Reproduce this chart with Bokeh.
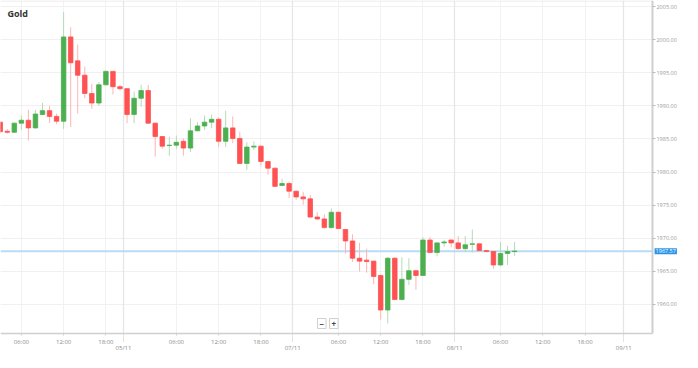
from bokeh.plotting import figure
from bokeh.models import (ColumnDataSource, FixedTicker, LinearAxis, Range1d,
                          Label, Grid, PrintfTickFormatter, BoxAnnotation)
from bokeh.embed import file_html
from bokeh.resources import INLINE

# ---- data (hourly candles) ----
opens = [1987.54, 1986.16, 1986.01, 1987.39, 1987.83, 1986.67, 1988.70, 1989.28, 1988.41, 1987.68,
         2000.43, 1996.81, 1994.64, 1991.88, 1990.43, 1993.19, 1995.22, 1992.90, 1992.61, 1988.70,
         1991.16, 1992.32, 1987.39, 1985.36, 1983.99, 1984.06, 1984.64, 1983.62, 1986.23, 1986.96,
         1987.54, 1987.97, 1984.64, 1986.67, 1985.07, 1981.30, 1983.77, 1983.91, 1981.59, 1980.58,
         1977.97, 1978.26, 1977.10, 1976.23, 1975.94, 1973.19, 1972.90, 1971.59, 1973.91, 1971.30,
         1969.57, 1966.96, 1966.67, 1966.52, 1964.35, 1959.13, 1966.96, 1960.72, 1963.77, 1965.07,
         1964.35, 1969.71, 1967.83, 1969.28, 1969.71, 1969.28, 1968.41, 1969.06, 1969.13, 1968.12,
         1967.97, 1965.94, 1967.68, 1967.97]
highs = [1987.68, 1986.52, 1987.46, 1988.55, 1989.42, 1989.42, 1990.43, 1990.00, 1988.84, 2004.20,
         2001.88, 1999.28, 1995.94, 1993.33, 1993.62, 1995.36, 1995.29, 1993.19, 1992.68, 1992.17,
         1993.19, 1993.19, 1987.46, 1985.43, 1985.36, 1985.51, 1985.07, 1988.12, 1987.54, 1988.55,
         1988.70, 1988.26, 1989.28, 1988.41, 1986.09, 1984.49, 1984.64, 1983.99, 1981.67, 1980.65,
         1978.99, 1978.55, 1977.17, 1976.96, 1976.52, 1973.91, 1973.62, 1974.49, 1973.99, 1971.38,
         1970.58, 1969.28, 1968.41, 1966.59, 1964.49, 1967.10, 1967.10, 1967.10, 1966.96, 1965.14,
         1970.14, 1970.14, 1969.35, 1969.71, 1969.78, 1970.29, 1970.29, 1971.30, 1969.20, 1968.19,
         1968.04, 1969.42, 1968.84, 1969.42]
lows = [1985.80, 1985.80, 1985.94, 1986.38, 1984.78, 1986.59, 1988.62, 1987.39, 1987.25, 1986.52,
        1986.81, 1988.84, 1991.16, 1989.57, 1990.00, 1993.12, 1991.74, 1992.32, 1987.39, 1987.39,
        1989.86, 1987.32, 1982.32, 1983.48, 1982.46, 1983.48, 1982.46, 1983.04, 1986.23, 1986.38,
        1986.67, 1983.77, 1983.77, 1984.35, 1981.23, 1980.29, 1983.33, 1980.87, 1979.57, 1977.75,
        1977.83, 1976.09, 1975.80, 1975.07, 1973.12, 1972.75, 1971.45, 1971.45, 1971.38, 1967.68,
        1966.38, 1964.93, 1964.78, 1963.04, 1957.68, 1957.10, 1960.58, 1960.58, 1962.90, 1962.17,
        1964.28, 1967.75, 1967.25, 1968.70, 1968.62, 1968.26, 1967.97, 1967.83, 1968.04, 1967.90,
        1965.36, 1965.80, 1965.94, 1967.32]
closes = [1986.09, 1986.01, 1987.39, 1987.83, 1986.67, 1988.77, 1989.28, 1988.41, 1987.68, 2000.43,
          1996.52, 1994.64, 1991.88, 1990.43, 1993.19, 1995.22, 1992.90, 1992.61, 1988.70, 1991.16,
          1992.32, 1987.39, 1985.36, 1983.91, 1984.06, 1984.49, 1983.62, 1986.23, 1986.96, 1987.54,
          1987.97, 1984.64, 1986.67, 1985.07, 1981.30, 1983.77, 1983.91, 1981.59, 1980.58, 1977.83,
          1978.26, 1977.10, 1976.23, 1975.94, 1973.19, 1972.90, 1971.59, 1973.91, 1971.45, 1969.57,
          1966.96, 1966.52, 1966.45, 1964.20, 1959.13, 1966.96, 1960.72, 1963.77, 1965.07, 1964.35,
          1969.71, 1967.83, 1969.28, 1969.42, 1969.28, 1968.41, 1968.99, 1969.13, 1968.12, 1967.97,
          1965.94, 1967.68, 1967.97, 1968.04]

time_ticks = [3, 9, 15, 25, 31, 37, 48, 54, 60, 71, 77, 83]
time_labels = ["06:00", "12:00", "18:00"] * 4
date_ticks = [17.5, 41.5, 64.5, 88.5]
date_labels = ["05/11", "07/11", "08/11", "09/11"]
price_ticks = [1960, 1965, 1970, 1975, 1980, 1985, 1990, 1995, 2000, 2005]
current_price = 1968.0
current_label = "1967.57"
title_text = "Gold"

GREEN, RED = "#4caf50", "#ff5252"
GREEN_W, RED_W = "#b2dcb4", "#ffb5b5"

idx = list(range(len(opens)))
up = [c >= o for o, c in zip(opens, closes)]
src = ColumnDataSource(dict(
    x=idx, high=highs, low=lows,
    top=[max(o, c) for o, c in zip(opens, closes)],
    bottom=[min(o, c) for o, c in zip(opens, closes)],
    color=[GREEN if u else RED for u in up],
    wick=[GREEN_W if u else RED_W for u in up],
))

W, H = 682, 352
X0, X1 = 0.04, 96.83          # whole canvas span (index units)
Y0, Y1 = 1952.70, 2005.94     # whole canvas span (price units)
AX_X = 92.57                  # where the price axis sits
AX_Y = 1955.51                # where the time axis sits

p = figure(width=W, height=H, x_range=Range1d(X0, X1), y_range=Range1d(Y0, Y1),
           y_axis_location="right", output_backend="svg", toolbar_location=None,
           min_border_left=0, min_border_top=0, min_border_bottom=0, min_border_right=0)
p.background_fill_color = "white"
p.border_fill_color = "white"
p.outline_line_color = None

# grids
p.ygrid.grid_line_color = "#f0f0f0"
p.xgrid.ticker = FixedTicker(ticks=time_ticks)
p.xgrid.grid_line_color = "#f2f2f2"
p.add_layout(Grid(dimension=0, ticker=FixedTicker(ticks=date_ticks),
                  grid_line_color="#e6e6e6", grid_line_width=1.3))

# white masks over the axis label areas
p.add_layout(BoxAnnotation(left=AX_X, fill_color="white", fill_alpha=1.0, line_color=None,
                           level="underlay"))
p.add_layout(BoxAnnotation(top=AX_Y, fill_color="white", fill_alpha=1.0, line_color=None,
                           level="underlay"))

# top border and current price line (both stop at the price axis)
p.segment(x0=[X0], y0=[Y1 - 0.08], x1=[AX_X], y1=[Y1 - 0.08], line_color="#e6e6e6", line_width=1)
p.segment(x0=[X0], y0=[current_price], x1=[AX_X], y1=[current_price],
          line_color="#b8dcf3", line_width=2)

# candles
p.segment(x0="x", y0="low", x1="x", y1="high", color="wick", line_width=1, source=src)
p.vbar(x="x", width=0.64, top="top", bottom="bottom", fill_color="color",
       line_color="color", line_width=0.8, source=src)

# price axis (right)
ya = p.yaxis[0]
ya.fixed_location = AX_X
ya.bounds = (AX_Y, Y1)
ya.ticker = FixedTicker(ticks=price_ticks)
ya.formatter = PrintfTickFormatter(format="%.2f")
ya.major_label_text_font_size = "5.5px"
ya.major_label_text_color = "#9a9a9a"
ya.major_label_text_font = "Open Sans"
ya.axis_line_color = "#cfcfcf"
ya.axis_line_width = 2
ya.major_tick_line_color = "#bbbbbb"
ya.major_tick_out = 3
ya.major_tick_in = 0
ya.minor_tick_line_color = None
ya.major_label_standoff = 1

# time axis (bottom)
xa = p.xaxis[0]
xa.fixed_location = AX_Y
xa.bounds = (X0, AX_X)
xa.ticker = FixedTicker(ticks=time_ticks)
xa.major_label_overrides = {t: l for t, l in zip(time_ticks, time_labels)}
xa.major_label_text_font_size = "6px"
xa.major_label_text_color = "#8a8a8a"
xa.major_label_text_font = "Open Sans"
xa.axis_line_color = "#cfcfcf"
xa.axis_line_width = 1.5
xa.major_tick_line_color = "#cfcfcf"
xa.major_tick_out = 2
xa.major_tick_in = 0
xa.minor_tick_line_color = None
xa.major_label_standoff = 2

# date axis (bottom, second row)
da = LinearAxis(ticker=FixedTicker(ticks=date_ticks), fixed_location=AX_Y,
                major_label_overrides={t: l for t, l in zip(date_ticks, date_labels)})
da.axis_line_color = None
da.major_tick_line_color = "#c8c8c8"
da.major_tick_line_dash = "1 1"
da.major_tick_out = 8
da.major_tick_in = 0
da.minor_tick_line_color = None
da.major_label_text_font_size = "6px"
da.major_label_text_color = "#8a8a8a"
da.major_label_text_font = "Open Sans"
da.major_label_standoff = 2
p.add_layout(da, "below")

# title inside the chart
p.add_layout(Label(x=7, y=H - 6, x_units="screen", y_units="screen", text=title_text,
                   text_font="Open Sans", text_font_style="bold", text_font_size="9px",
                   text_color="#333333", text_baseline="top"))

# price tag on the price axis
p.add_layout(Label(x=AX_X + 0.3, y=current_price, text=current_label,
                   text_font="Open Sans", text_font_size="5.5px", text_color="white",
                   text_baseline="middle", background_fill_color="#2a93e8",
                   background_fill_alpha=1.0, padding=1))

# zoom buttons
for xs, t in [(317, "\u2212"), (329, "+")]:
    p.add_layout(Label(x=xs, y=24, x_units="screen", y_units="screen", text=t,
                       text_font="Open Sans", text_font_size="8px", text_color="#444444",
                       text_font_style="bold", border_line_color="#d0d0d0",
                       background_fill_color="white", padding=2))

open("out.html", "w").write(file_html(p, INLINE))
